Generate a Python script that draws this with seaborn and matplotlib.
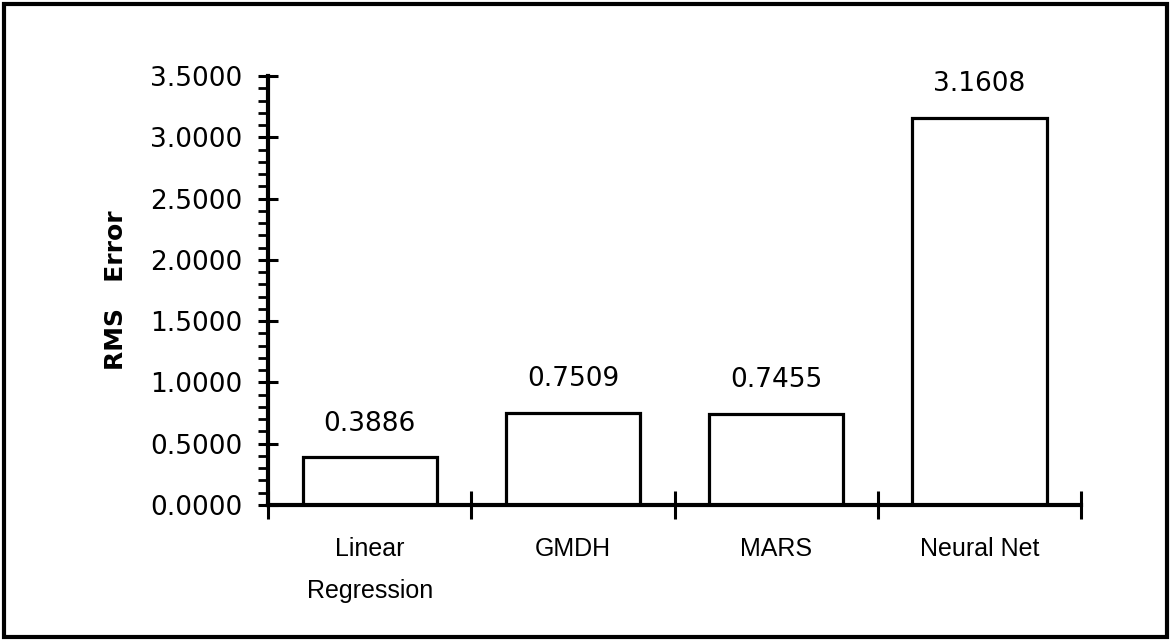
import matplotlib
matplotlib.use("Agg")
import matplotlib.pyplot as plt
import seaborn as sns
import pandas as pd
from matplotlib.ticker import MultipleLocator, FixedLocator, NullFormatter
from matplotlib.patches import Rectangle

categories = ["Linear\nRegression", "GMDH", "MARS", "Neural Net"]
rms_error = [0.3886, 0.7509, 0.7455, 3.1608]
value_labels = ["0.3886", "0.7509", "0.7455", "3.1608"]

sns.set_style("white")
plt.rcParams['font.family'] = ['DejaVu Sans']
plt.rcParams.update({"text.color": "black", "axes.labelcolor": "black",
                     "xtick.color": "black", "ytick.color": "black"})

df = pd.DataFrame({"method": categories, "rms": rms_error})

fig = plt.figure(figsize=(11.71, 6.41), dpi=100)
ax = fig.add_axes([0.2289, 0.2122, 0.9232 - 0.2289, 0.8814 - 0.2122])

sns.barplot(data=df, x="method", y="rms", color="white", edgecolor="black",
            linewidth=2.3, width=0.66, ax=ax, saturation=1)

ax.set_xlim(-0.5, 3.5)
ax.set_ylim(0, 3.5)

for spine in ["top", "right"]:
    ax.spines[spine].set_visible(False)
for spine in ["left", "bottom"]:
    ax.spines[spine].set_linewidth(3)
    ax.spines[spine].set_color("black")

# y ticks
ax.yaxis.set_major_locator(MultipleLocator(0.5))
ax.yaxis.set_minor_locator(MultipleLocator(0.1))
ax.set_yticklabels([f"{v:.4f}" for v in ax.get_yticks()])
ax.tick_params(axis="y", which="major", direction="inout", length=15, width=2.2,
               labelsize=19, pad=11, left=True)
ax.tick_params(axis="y", which="minor", direction="out", length=7, width=2, left=True)

# x ticks: separators at boundaries, labels at centers
ax.xaxis.set_major_locator(FixedLocator([-0.5, 0.5, 1.5, 2.5, 3.5]))
ax.xaxis.set_major_formatter(NullFormatter())
ax.xaxis.set_minor_locator(FixedLocator([0, 1, 2, 3]))
ax.set_xticklabels(categories, minor=True)
ax.tick_params(axis="x", which="major", direction="inout", length=20, width=2.2, bottom=True)
ax.tick_params(axis="x", which="minor", length=0, pad=23)
for lbl in ax.get_xticklabels(minor=True):
    lbl.set_linespacing(1.95)
    lbl.set_family("Liberation Sans")
    lbl.set_fontsize(18)

ax.set_xlabel("")
ax.set_ylabel("RMS   Error", fontsize=18, fontweight="bold", labelpad=16)

for i, (v, t) in enumerate(zip(rms_error, value_labels)):
    ax.text(i, v + 0.17, t, ha="center", va="bottom", fontsize=19)

fig.patches.append(Rectangle((0.003, 0.006), 0.994, 0.987, transform=fig.transFigure,
                             fill=False, edgecolor="black", linewidth=3))

fig.savefig("out.png", dpi=100, facecolor="white")
